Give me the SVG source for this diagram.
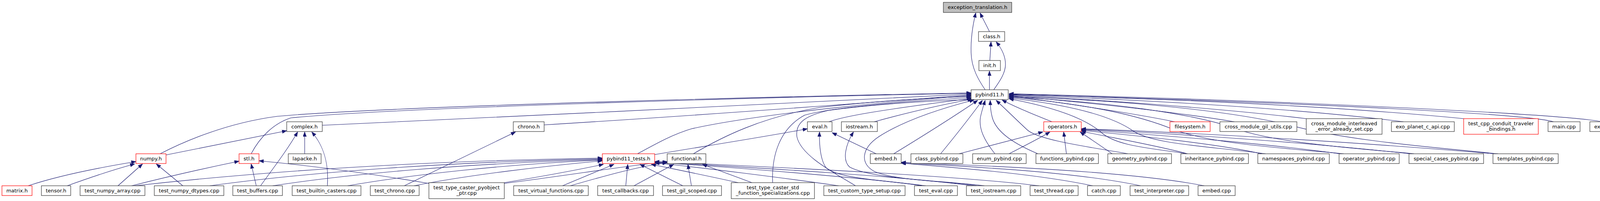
<svg xmlns="http://www.w3.org/2000/svg" width="4234" height="515" viewBox="0 0 4234 515">
<style>
.n rect{fill:#fff;stroke:#333;stroke-width:1.2}
.r rect{fill:#fff;stroke:#f00;stroke-width:1.2}
.root rect{fill:#bfbfbf;stroke:#333;stroke-width:1.2}
text{font-family:"DejaVu Sans","Liberation Sans",sans-serif;font-size:13px;fill:#000;text-anchor:middle}
#edges path{fill:none;stroke:#191970;stroke-width:1.1;marker-end:url(#ah)}
</style>
<defs>
<marker id="ah" markerUnits="userSpaceOnUse" markerWidth="13" markerHeight="10" refX="12" refY="4.5" orient="auto">
<path d="M0,0 L12,4.5 L0,9 Z" fill="#191970" stroke="#191970" stroke-width="0.8"/>
</marker>
</defs>
<rect width="4234" height="515" fill="#fff"/>
<g id="edges">
<path d="M2533,81 C2527,68 2518,52 2509,33"/>
<path d="M2522,230 C2505,205 2487,175 2486,135 C2485,100 2490,65 2498,33"/>
<path d="M2534,155 L2537,107"/>
<path d="M2544,230 C2558,210 2574,188 2574,165 C2574,142 2564,124 2550,107"/>
<path d="M2533,230 L2533,182"/>
<path d="M410,394 C470,363 580,315 710,298 C1000,272 2000,247 2486,238"/>
<path d="M643,394 C665,352 700,316 745,302 C1000,276 2000,248 2486,239"/>
<path d="M825,321 C1300,300 2100,260 2486,241"/>
<path d="M1393,320 C1800,295 2200,265 2486,243"/>
<path d="M1632,394 C1680,368 1720,345 1770,330 C1950,290 2300,258 2486,245"/>
<path d="M1775,394 C1850,350 1950,300 2100,275 C2250,258 2400,250 2486,247"/>
<path d="M1978,468 C1975,400 1995,330 2060,295 C2150,270 2400,255 2487,250"/>
<path d="M2122,312 C2160,298 2250,282 2488,252"/>
<path d="M2238,312 C2300,295 2400,270 2489,254"/>
<path d="M2190,476 C2140,445 2050,400 2040,350 C2035,310 2070,295 2120,283 C2250,265 2400,258 2490,255"/>
<path d="M2500,476 C2450,465 2300,465 2240,440 C2200,420 2205,380 2250,350 C2320,305 2420,275 2494,256"/>
<path d="M2288,394 C2360,350 2440,300 2503,257"/>
<path d="M2408,394 C2440,355 2480,305 2515,257"/>
<path d="M2547,394 C2520,360 2505,330 2510,300 C2513,285 2518,270 2522,257"/>
<path d="M2657,394 C2600,370 2550,340 2540,300 C2536,285 2535,270 2535,257"/>
<path d="M2693,312 C2650,295 2600,275 2565,256"/>
<path d="M2887,394 C2800,378 2660,360 2630,333 C2600,305 2580,285 2550,257"/>
<path d="M3040,394 C2950,380 2860,375 2820,340 C2780,305 2700,275 2583,253"/>
<path d="M3240,394 C3100,375 2950,370 2900,335 C2850,300 2750,270 2583,251"/>
<path d="M3440,394 C3300,380 3100,370 3000,330 C2920,298 2800,268 2583,249"/>
<path d="M3620,394 C3450,378 3250,365 3150,325 C3050,292 2850,262 2583,248"/>
<path d="M3835,394 C3700,380 3450,362 3300,320 C3150,285 2900,258 2583,247"/>
<path d="M3007,312 C2900,290 2700,260 2583,246"/>
<path d="M3160,312 C3000,285 2750,260 2583,245"/>
<path d="M3344,304 C3100,275 2800,255 2583,244"/>
<path d="M3593,312 C3300,275 2900,255 2583,243"/>
<path d="M3747,304 C3400,270 2950,252 2583,242"/>
<path d="M3977,312 C3900,290 3300,262 2583,241"/>
<path d="M4102,312 C4000,292 3300,258 2583,240"/>
<path d="M2455,394 L2670,338"/>
<path d="M2583,394 C2620,375 2660,355 2688,338"/>
<path d="M2730,394 L2723,338"/>
<path d="M2847,394 C2820,375 2790,355 2765,338"/>
<path d="M3040,394 C2950,370 2830,350 2768,336"/>
<path d="M3230,394 C3100,365 2880,345 2768,334"/>
<path d="M3430,394 C3200,362 2900,342 2768,332"/>
<path d="M3610,394 C3300,360 2950,340 2768,331"/>
<path d="M3825,394 C3400,358 3000,338 2768,330"/>
<path d="M780,394 L780,338"/>
<path d="M425,397 L734,335"/>
<path d="M667,476 C700,430 735,385 762,338"/>
<path d="M838,476 C842,420 830,375 798,338"/>
<path d="M1035,476 L1320,338"/>
<path d="M72,476 C150,450 250,430 348,414"/>
<path d="M172,476 C230,455 300,432 345,420"/>
<path d="M302,476 L365,420"/>
<path d="M468,476 L400,420"/>
<path d="M337,476 C420,455 520,432 612,413"/>
<path d="M656,476 L643,420"/>
<path d="M1098,470 C950,445 800,425 663,412"/>
<path d="M345,476 C700,436 1100,412 1542,405"/>
<path d="M537,476 C800,440 1150,415 1542,407"/>
<path d="M698,476 C900,445 1200,418 1542,409"/>
<path d="M890,476 C1050,448 1300,420 1542,410"/>
<path d="M1060,476 C1200,448 1400,425 1542,412"/>
<path d="M1291,468 C1400,450 1480,435 1545,421"/>
<path d="M1440,476 L1572,421"/>
<path d="M1602,476 L1607,421"/>
<path d="M1748,476 L1638,421"/>
<path d="M1890,468 C1800,448 1720,432 1667,421"/>
<path d="M2147,476 C2000,455 1800,430 1676,417"/>
<path d="M2370,476 C2200,455 1900,430 1676,416"/>
<path d="M2490,476 C2300,450 1900,428 1676,415"/>
<path d="M2660,476 C2400,445 1900,425 1676,414"/>
<path d="M1291,470 C1450,450 1600,425 1708,414"/>
<path d="M1460,476 C1550,450 1640,425 1708,417"/>
<path d="M1623,476 L1725,421"/>
<path d="M1770,476 L1761,421"/>
<path d="M1925,468 L1798,421"/>
<path d="M1676,396 C1800,375 1950,352 2067,330"/>
<path d="M2243,394 L2130,340"/>
<path d="M2360,476 C2280,462 2150,460 2115,430 C2100,410 2097,370 2098,338"/>
<path d="M2520,476 C2400,462 2230,458 2175,428 C2155,410 2165,370 2185,338"/>
<path d="M2797,476 C2650,445 2450,430 2307,418"/>
<path d="M2920,476 C2750,440 2500,428 2307,417"/>
<path d="M3083,476 C2900,440 2550,425 2307,416"/>
</g>
<g id="n_exc" class="root"><rect x="2415" y="6" width="175" height="26"/><text x="2502.5" y="23">exception_translation.h</text></g>
<g id="n_class" class="n"><rect x="2505" y="81" width="67" height="25"/><text x="2538.5" y="98">class.h</text></g>
<g id="n_init" class="n"><rect x="2506" y="155" width="55" height="26"/><text x="2533.5" y="172">init.h</text></g>
<g id="n_pybind11" class="n"><rect x="2486" y="230" width="95" height="25"/><text x="2533.5" y="247">pybind11.h</text></g>
<g id="n_complex" class="n"><rect x="734" y="312" width="91" height="25"/><text x="779.5" y="329">complex.h</text></g>
<g id="n_chrono" class="n"><rect x="1314" y="312" width="79" height="25"/><text x="1353.5" y="329">chrono.h</text></g>
<g id="n_eval" class="n"><rect x="2067" y="312" width="63" height="25"/><text x="2098.5" y="329">eval.h</text></g>
<g id="n_iostream" class="n"><rect x="2154" y="312" width="92" height="25"/><text x="2200" y="329">iostream.h</text></g>
<g id="n_operators" class="r"><rect x="2672" y="312" width="96" height="25"/><text x="2720" y="329">operators.h</text></g>
<g id="n_filesystem" class="r"><rect x="2995" y="312" width="103" height="25"/><text x="3046.5" y="329">filesystem.h</text></g>
<g id="n_cmgil" class="n"><rect x="3123" y="312" width="197" height="25"/><text x="3221.5" y="329">cross_module_gil_utils.cpp</text></g>
<g id="n_cmie" class="n"><rect x="3344" y="304" width="194" height="40"/><text x="3441" y="321">cross_module_interleaved</text><text x="3441" y="335">_error_already_set.cpp</text></g>
<g id="n_exo" class="n"><rect x="3562" y="312" width="161" height="25"/><text x="3642.5" y="329">exo_planet_c_api.cpp</text></g>
<g id="n_conduit" class="r"><rect x="3747" y="304" width="191" height="40"/><text x="3842.5" y="321">test_cpp_conduit_traveler</text><text x="3842.5" y="335">_bindings.h</text></g>
<g id="n_main" class="n"><rect x="3963" y="312" width="82" height="25"/><text x="4004" y="329">main.cpp</text></g>
<g id="n_external" class="n"><rect x="4070" y="312" width="159" height="25"/><text x="4149.5" y="329">external_module.cpp</text></g>
<g id="n_numpy" class="r"><rect x="348" y="394" width="77" height="25"/><text x="386.5" y="411">numpy.h</text></g>
<g id="n_stl" class="r"><rect x="612" y="394" width="51" height="25"/><text x="637.5" y="411">stl.h</text></g>
<g id="n_lapacke" class="n"><rect x="738" y="394" width="84" height="25"/><text x="780" y="411">lapacke.h</text></g>
<g id="n_pbtests" class="r"><rect x="1542" y="394" width="134" height="25"/><text x="1609" y="411">pybind11_tests.h</text></g>
<g id="n_functional" class="n"><rect x="1708" y="394" width="99" height="25"/><text x="1757.5" y="411">functional.h</text></g>
<g id="n_embed" class="n"><rect x="2228" y="394" width="79" height="25"/><text x="2267.5" y="411">embed.h</text></g>
<g id="n_classpb" class="n"><rect x="2332" y="394" width="133" height="25"/><text x="2398.5" y="411">class_pybind.cpp</text></g>
<g id="n_enumpb" class="n"><rect x="2490" y="394" width="137" height="25"/><text x="2558.5" y="411">enum_pybind.cpp</text></g>
<g id="n_funcpb" class="n"><rect x="2652" y="394" width="160" height="25"/><text x="2732" y="411">functions_pybind.cpp</text></g>
<g id="n_geompb" class="n"><rect x="2836" y="394" width="163" height="25"/><text x="2917.5" y="411">geometry_pybind.cpp</text></g>
<g id="n_inhpb" class="n"><rect x="3023" y="394" width="173" height="25"/><text x="3109.5" y="411">inheritance_pybind.cpp</text></g>
<g id="n_nspb" class="n"><rect x="3220" y="394" width="183" height="25"/><text x="3311.5" y="411">namespaces_pybind.cpp</text></g>
<g id="n_oppb" class="n"><rect x="3428" y="394" width="154" height="25"/><text x="3505" y="411">operator_pybind.cpp</text></g>
<g id="n_scpb" class="n"><rect x="3607" y="394" width="191" height="25"/><text x="3702.5" y="411">special_cases_pybind.cpp</text></g>
<g id="n_tplpb" class="n"><rect x="3822" y="394" width="167" height="25"/><text x="3905.5" y="411">templates_pybind.cpp</text></g>
<g id="n_matrix" class="r"><rect x="5" y="476" width="77" height="25"/><text x="43.5" y="493">matrix.h</text></g>
<g id="n_tensor" class="n"><rect x="106" y="476" width="75" height="25"/><text x="143.5" y="493">tensor.h</text></g>
<g id="n_tna" class="n"><rect x="205" y="476" width="166" height="25"/><text x="288" y="493">test_numpy_array.cpp</text></g>
<g id="n_tnd" class="n"><rect x="395" y="476" width="178" height="25"/><text x="484" y="493">test_numpy_dtypes.cpp</text></g>
<g id="n_tbuf" class="n"><rect x="596" y="476" width="127" height="25"/><text x="659.5" y="493">test_buffers.cpp</text></g>
<g id="n_tbc" class="n"><rect x="748" y="476" width="176" height="25"/><text x="836" y="493">test_builtin_casters.cpp</text></g>
<g id="n_tchrono" class="n"><rect x="948" y="476" width="125" height="25"/><text x="1010.5" y="493">test_chrono.cpp</text></g>
<g id="n_ttcpp" class="n"><rect x="1098" y="468" width="193" height="41"/><text x="1194.5" y="485">test_type_caster_pyobject</text><text x="1194.5" y="499">_ptr.cpp</text></g>
<g id="n_tvf" class="n"><rect x="1315" y="476" width="191" height="25"/><text x="1410.5" y="493">test_virtual_functions.cpp</text></g>
<g id="n_tcb" class="n"><rect x="1530" y="476" width="143" height="25"/><text x="1601.5" y="493">test_callbacks.cpp</text></g>
<g id="n_tgil" class="n"><rect x="1696" y="476" width="151" height="25"/><text x="1771.5" y="493">test_gil_scoped.cpp</text></g>
<g id="n_ttcsf" class="n"><rect x="1872" y="468" width="213" height="41"/><text x="1978.5" y="485">test_type_caster_std</text><text x="1978.5" y="499">_function_specializations.cpp</text></g>
<g id="n_tcts" class="n"><rect x="2109" y="476" width="208" height="25"/><text x="2213" y="493">test_custom_type_setup.cpp</text></g>
<g id="n_teval" class="n"><rect x="2341" y="476" width="110" height="25"/><text x="2396" y="493">test_eval.cpp</text></g>
<g id="n_tios" class="n"><rect x="2474" y="476" width="139" height="25"/><text x="2543.5" y="493">test_iostream.cpp</text></g>
<g id="n_tthread" class="n"><rect x="2637" y="476" width="123" height="25"/><text x="2698.5" y="493">test_thread.cpp</text></g>
<g id="n_catch" class="n"><rect x="2784" y="476" width="84" height="25"/><text x="2826" y="493">catch.cpp</text></g>
<g id="n_tinterp" class="n"><rect x="2893" y="476" width="150" height="25"/><text x="2968" y="493">test_interpreter.cpp</text></g>
<g id="n_embedcpp" class="n"><rect x="3067" y="476" width="95" height="25"/><text x="3114.5" y="493">embed.cpp</text></g>
</svg>
